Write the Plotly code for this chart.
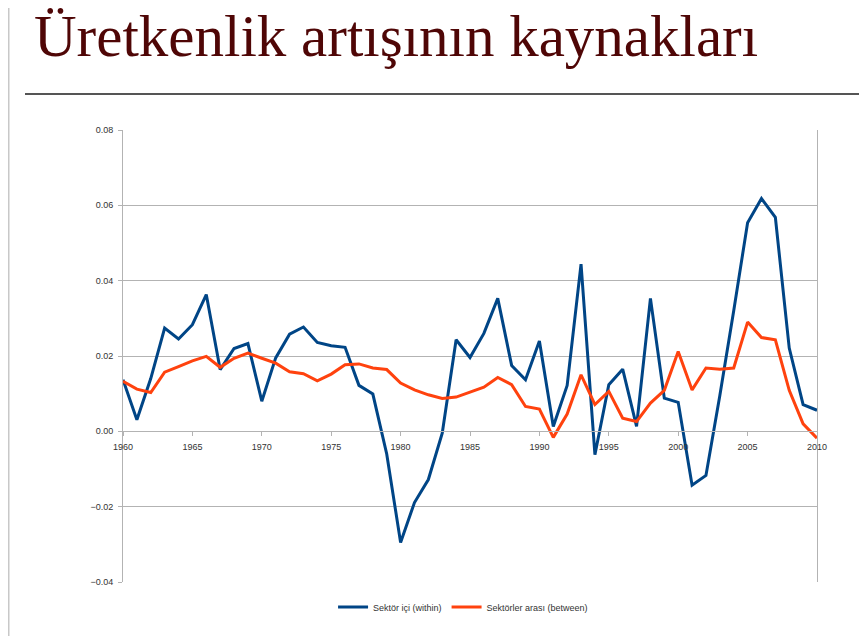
import plotly.graph_objects as go

years = list(range(1960, 2011))
within = [0.0137, 0.0031, 0.0140, 0.0274, 0.0245, 0.0283, 0.0363, 0.0164, 0.0220, 0.0233,
          0.0080, 0.0195, 0.0258, 0.0277, 0.0236, 0.0227, 0.0223, 0.0122, 0.0099, -0.0060,
          -0.0295, -0.0189, -0.0128, -0.0005, 0.0243, 0.0196, 0.0260, 0.0353, 0.0175, 0.0137,
          0.0240, 0.0013, 0.0122, 0.0444, -0.0062, 0.0124, 0.0165, 0.0013, 0.0353, 0.0088,
          0.0077, -0.0143, -0.0117, 0.0095, 0.0320, 0.0554, 0.0618, 0.0568, 0.0221, 0.0071,
          0.0056]
between = [0.0133, 0.0112, 0.0103, 0.0157, 0.0172, 0.0187, 0.0199, 0.0170, 0.0194, 0.0208,
           0.0194, 0.0181, 0.0158, 0.0153, 0.0134, 0.0152, 0.0177, 0.0179, 0.0168, 0.0164,
           0.0128, 0.0110, 0.0097, 0.0087, 0.0091, 0.0103, 0.0117, 0.0143, 0.0124, 0.0066,
           0.0059, -0.0016, 0.0046, 0.0150, 0.0071, 0.0106, 0.0035, 0.0026, 0.0075, 0.0109,
           0.0212, 0.0110, 0.0168, 0.0165, 0.0168, 0.0290, 0.0249, 0.0243, 0.0109, 0.0020,
           -0.0018]
series_names = ["Sektör içi (within)", "Sektörler arası (between)"]
title_text = "Üretkenlik artışının kaynakları"
y_ticks = [-0.04, -0.02, 0.0, 0.02, 0.04, 0.06, 0.08]
x_ticks = list(range(1960, 2011, 5))

# page is offset by the 8px body margin, so the figure is sized to fit the window
W, H = 859, 628
L, R, T, B = 115, 50, 122, 54
pw, ph = W - L - R, H - T - B


def px2x(px):
    return (px - L) / pw


def py2y(py):
    return (H - B - py) / ph


fig = go.Figure()
fig.add_trace(go.Scatter(x=years, y=within, mode="lines", name=series_names[0],
                         line=dict(color="#004586", width=3)))
fig.add_trace(go.Scatter(x=years, y=between, mode="lines", name=series_names[1],
                         line=dict(color="#ff420e", width=3)))

axis_font = dict(family="Liberation Sans, Arial, sans-serif", size=9, color="#333333")
fig.update_layout(
    width=W, height=H,
    margin=dict(l=L, r=R, t=T, b=B),
    paper_bgcolor="white", plot_bgcolor="white",
    showlegend=True,
    legend=dict(orientation="h", x=0.49, xanchor="center", y=py2y(599), yanchor="middle",
                font=axis_font, itemwidth=30),
    xaxis=dict(range=[1960, 2010], tickvals=x_ticks, showgrid=False, zeroline=False,
               anchor="free", position=1 / 3, showline=True, linecolor="#b3b3b3",
               linewidth=1, ticks="outside", ticklen=4, tickcolor="#b3b3b3",
               tickfont=axis_font, ticklabelstandoff=3),
    yaxis=dict(range=[-0.04, 0.08], tickvals=y_ticks, tickformat=".2f", showgrid=True,
               gridcolor="#b3b3b3", gridwidth=1, zeroline=False, showline=True,
               linecolor="#b3b3b3", mirror=True, ticks="outside", ticklen=4,
               tickcolor="#b3b3b3", tickfont=axis_font, ticklabelstandoff=3),
    title=dict(text=title_text, x=26 / W, xanchor="left", xref="container", yref="container",
               y=1 - 27 / H, yanchor="middle",
               font=dict(family="Liberation Serif, Times New Roman, serif", size=59,
                         color="#4f0606")),
    shapes=[
        dict(type="line", xref="paper", yref="paper", x0=px2x(17), x1=px2x(W),
             y0=py2y(86), y1=py2y(86), line=dict(color="#555555", width=2)),
        dict(type="line", xref="paper", yref="paper", x0=px2x(0.5), x1=px2x(0.5),
             y0=py2y(0), y1=py2y(H), line=dict(color="#c8c8c8", width=2)),
    ],
)
fig.write_html("out.html")
